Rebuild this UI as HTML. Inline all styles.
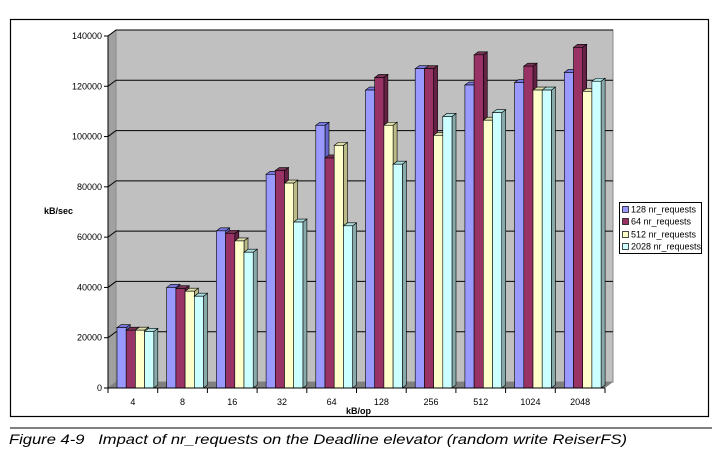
<!DOCTYPE html>
<html><head><meta charset="utf-8"><style>
body{margin:0;background:#fff;width:726px;height:455px;overflow:hidden}
svg{display:block}
text{font-family:"Liberation Sans",Arial,sans-serif}
</style></head><body>
<svg id="s" width="726" height="455" xmlns="http://www.w3.org/2000/svg">
<rect x="10.5" y="19.5" width="698" height="397" fill="#fff" stroke="#000" stroke-width="1.2"/>
<polygon points="116,30 613,30 613,382 116,382" fill="#c0c0c0" stroke="#888" stroke-width="1"/>
<polygon points="108,36 116,30 116,382 108,388" fill="#a0a0a0" stroke="#888" stroke-width="0.8"/>
<polygon points="108,388 116,382 613,382 605,388" fill="#808080"/>
<g id="grid"></g>
<g id="bars"></g>
<line x1="108" y1="36" x2="108" y2="388" stroke="#000"/>
<line x1="108" y1="388" x2="605" y2="388" stroke="#000"/>
<g id="ax" font-size="9" fill="#000"></g>
<text x="44" y="214" font-size="9" font-weight="bold">kB/sec</text>
<text x="346" y="414" font-size="9" font-weight="bold">kB/op</text>
<rect x="619.5" y="202.5" width="82" height="51" fill="#fff" stroke="#000"/>
<g font-size="9">
<rect x="622.5" y="206.5" width="6" height="6" fill="#9999ff" stroke="#000" stroke-width=".7"/><text x="631" y="212.5">128 nr_requests</text>
<rect x="622.5" y="218.5" width="6" height="6" fill="#993366" stroke="#000" stroke-width=".7"/><text x="631" y="224.5">64 nr_requests</text>
<rect x="622.5" y="231.5" width="6" height="6" fill="#ffffcc" stroke="#000" stroke-width=".7"/><text x="631" y="237.5">512 nr_requests</text>
<rect x="622.5" y="243.5" width="6" height="6" fill="#ccffff" stroke="#000" stroke-width=".7"/><text x="631" y="249.5">2028 nr_requests</text>
</g>
<line x1="10" y1="428" x2="712" y2="428" stroke="#000" stroke-width="1"/>
<text x="9" y="444" font-size="14" font-style="italic" xml:space="preserve" textLength="618" lengthAdjust="spacingAndGlyphs">Figure 4-9   Impact of nr_requests on the Deadline elevator (random write ReiserFS)</text>
</svg>
<script>
const NS="http://www.w3.org/2000/svg";
function el(p,t,a,txt){const e=document.createElementNS(NS,t);for(const k in a)e.setAttribute(k,a[k]);if(txt!=null)e.textContent=txt;document.getElementById(p).appendChild(e);}
const Y=v=>388-v*352/140000;
for(let v=0;v<=140000;v+=20000){const y=Y(v);
 if(v>0){el("grid","line",{x1:116,y1:y-6,x2:613,y2:y-6,stroke:"#000","stroke-width":1});
 el("grid","line",{x1:108,y1:y,x2:116,y2:y-6,stroke:"#000","stroke-width":1});}
 el("ax","line",{x1:104,y1:y,x2:108,y2:y,stroke:"#000"});
 el("ax","text",{x:102,y:y+3,"text-anchor":"end"},String(v));}
const cats=["4","8","16","32","64","128","256","512","1024","2048"];
const data=[[24000,23000,23000,22500],[40000,39500,38500,36500],[62500,61500,58500,54000],[85000,86500,81500,66000],[104500,91500,96500,64500],[118500,123500,104500,89000],[127000,127000,100500,108000],[120500,132500,106500,109500],[121500,128000,118500,118500],[125500,135500,118000,122000]];
const cols=[["#9999ff","#6666cc","#7777dd"],["#993366","#662244","#773355"],["#ffffcc","#bbbb88","#ddddaa"],["#ccffff","#88aaaa","#aadddd"]];
const cw=49.7;
for(let i=0;i<10;i++){const x0=108+i*cw;
 el("ax","line",{x1:x0,y1:388,x2:x0,y2:393,stroke:"#000"});
 el("ax","text",{x:x0+cw/2,y:405,"text-anchor":"middle"},cats[i]);
 for(let j=0;j<4;j++){const bx=x0+9+j*9.2,w=9.2,y=Y(data[i][j]),d=4,h=3;
  const c=cols[j];
  el("bars","polygon",{points:`${bx+w},${y} ${bx+w+d},${y-h} ${bx+w+d},${388-h} ${bx+w},388`,fill:c[1],stroke:"#000","stroke-width":.6});
  el("bars","polygon",{points:`${bx},${y} ${bx+d},${y-h} ${bx+w+d},${y-h} ${bx+w},${y}`,fill:c[2],stroke:"#000","stroke-width":.6});
  el("bars","rect",{x:bx,y:y,width:w,height:388-y,fill:c[0],stroke:"#000","stroke-width":.6});
 }}
el("ax","line",{x1:605,y1:388,x2:605,y2:393,stroke:"#000"});
</script>
</body></html>
